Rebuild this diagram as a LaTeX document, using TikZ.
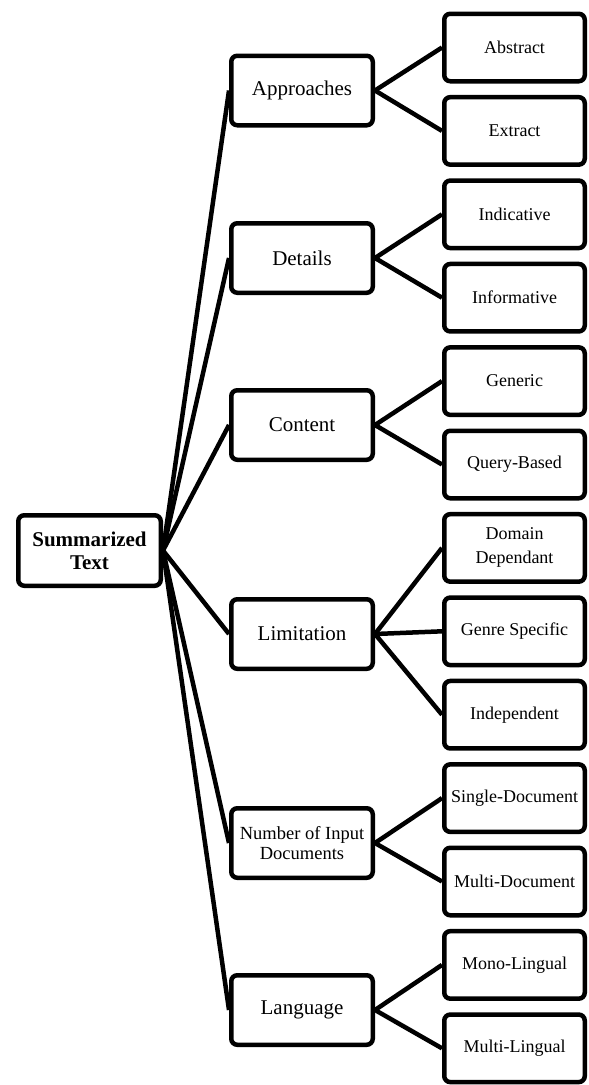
\documentclass[tikz,border=0pt]{standalone}
\usepackage{fontspec}
\setmainfont{Liberation Serif}
\usetikzlibrary{positioning}
\tikzset{
  box/.style={draw, line width=4.5pt, rounded corners=6pt, align=center, inner sep=0pt},
  rootbox/.style={box, minimum width=142.5pt, minimum height=70.5pt,
    font=\fontsize{21}{23}\selectfont\bfseries},
  catbox/.style={box, minimum width=141.5pt, minimum height=69.5pt,
    font=\fontsize{21}{24}\selectfont},
  leafbox/.style={box, minimum width=140.5pt, minimum height=67.5pt,
    font=\fontsize{18}{24}\selectfont},
  link/.style={line width=4.5pt},
}

\begin{document}
\begin{tikzpicture}[x=1pt,y=-1pt]
  \useasboundingbox (0,0) rectangle (589,1085);
  % root
  \node[rootbox] (root) at (89.5,550.5) {Summarized\\Text};
  % categories
  \node[catbox] (appr) at (302,90.5) {Approaches};
  \node[catbox] (det) at (302,258) {Details};
  \node[catbox] (cont) at (302,425) {Content};
  \node[catbox] (lim) at (302,634) {Limitation};
  \node[catbox, font=\fontsize{18.5}{20}\selectfont] (num) at (302,843) {Number of Input\\Documents};
  \node[catbox] (lang) at (302,1010) {Language};
  % leaves
  \foreach \name/\txt [count=\i from 0] in {abs/Abstract, ext/Extract, ind/Indicative,
      inf/Informative, gen/Generic, qry/Query-Based, dom/{Domain\\Dependant},
      genre/Genre Specific, indep/Independent, single/Single-Document,
      multi/Multi-Document, mono/Mono-Lingual, mling/Multi-Lingual}
    \node[leafbox] (\name) at (514.5,{47.5+83.4*\i}) {\txt};
  % connectors
  \foreach \a/\b in {root/appr, root/det, root/cont, root/lim, root/num, root/lang,
      appr/abs, appr/ext, det/ind, det/inf, cont/gen, cont/qry,
      lim/dom, lim/genre, lim/indep, num/single, num/multi, lang/mono, lang/mling}
    \draw[link] (\a.east) -- (\b.west);
\end{tikzpicture}
\end{document}
